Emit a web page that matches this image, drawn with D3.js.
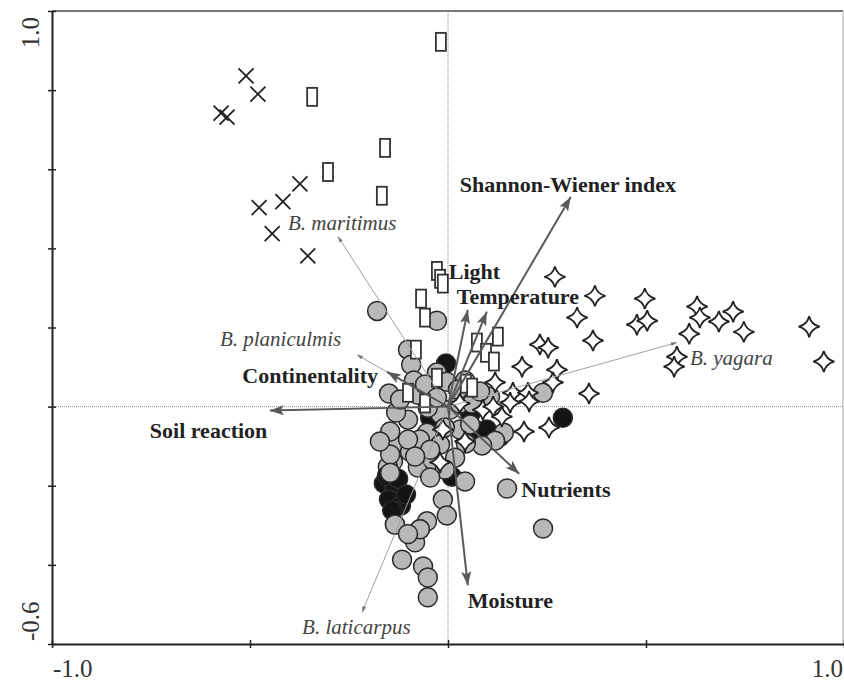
<!DOCTYPE html>
<html>
<head>
<meta charset="utf-8">
<script src="https://cdn.jsdelivr.net/npm/d3@7"></script>
<style>
  body { margin: 0; background: #fff; }
  svg { display: block; }
  text { font-family: "Liberation Serif", "Times New Roman", serif; }
</style>
</head>
<body>
<div id="chart"></div>
<script>
// ordination scores (axis 1, axis 2)
const xTicks = [-1, -0.5, 0, 0.5, 1];
const yTicks = [-0.6, -0.4, -0.2, 0, 0.2, 0.4, 0.6, 0.8, 1.0];
const xTickLabels = ["-1.0", "1.0"];
const yTickLabels = ["1.0", "-0.6"];

const crosses = [
    [-0.510, 0.836], [-0.480, 0.790], [-0.573, 0.742], [-0.558, 0.732], [-0.374, 0.563],
    [-0.417, 0.518], [-0.477, 0.503], [-0.444, 0.437], [-0.354, 0.381]
];

const rects = [
    [-0.018, 0.922], [-0.343, 0.783], [-0.159, 0.654], [-0.303, 0.593], [-0.167, 0.533],
    [-0.028, 0.343], [-0.020, 0.323], [-0.013, 0.311], [-0.068, 0.273], [-0.058, 0.225],
    [-0.081, 0.144], [0.073, 0.162], [0.126, 0.177], [0.096, 0.136], [0.116, 0.114],
    [0.045, 0.058], [0.061, 0.048], [-0.101, 0.035], [-0.058, 0.008], [-0.028, 0.073]
];

const blackCircles = [
    [-0.005, 0.109], [0.290, -0.028], [0.131, -0.076], [0.073, -0.061], [0.010, -0.177],
    [0.056, -0.020], [-0.045, -0.028], [0.098, -0.058]
];

const grayCircles = [
    [-0.179, 0.242], [-0.028, 0.217], [-0.101, 0.144], [-0.093, 0.106], [-0.086, 0.066],
    [-0.149, 0.033], [-0.028, 0.086], [-0.003, 0.063], [0.043, 0.066], [0.240, 0.035],
    [0.141, -0.066], [0.149, -0.207], [0.240, -0.308], [-0.013, -0.235], [-0.003, -0.275],
    [-0.053, -0.290], [-0.071, -0.310], [-0.083, -0.343], [-0.116, -0.387],
    [-0.063, -0.404], [-0.051, -0.432], [-0.051, -0.482], [-0.134, -0.298], [-0.136, -0.093],
    [-0.139, -0.139], [-0.096, -0.114], [-0.076, -0.154], [-0.038, -0.136], [-0.053, -0.066],
    [0.005, -0.008], [0.030, 0.008], [0.061, 0.008], [0.106, 0.025], [0.119, -0.086],
    [0.086, -0.098], [0.045, -0.093], [0.030, -0.058], [-0.020, -0.018], [-0.101, -0.033],
    [-0.131, -0.015], [-0.146, -0.063], [-0.152, -0.152], [0.018, -0.129],
    [0.056, -0.045], [-0.076, 0.030], [-0.051, -0.003], [-0.071, -0.083],
    [-0.101, -0.083], [-0.020, -0.096], [-0.008, -0.053], [-0.045, -0.109],
    [0.081, 0.038], [0.025, 0.043], [-0.058, 0.056], [-0.121, 0.018], [-0.146, -0.121],
    [0.043, -0.189], [-0.172, -0.088], [-0.028, 0.023], [-0.083, -0.126], [-0.008, -0.159],
    [-0.045, -0.179]
];

// black circles that sit on top of the gray ones in the lower cluster
const blackTop = [
    [-0.162, -0.194], [-0.136, -0.207], [-0.149, -0.235], [-0.119, -0.250], [-0.154, -0.175],
    [-0.126, -0.182], [-0.106, -0.222], [-0.141, -0.262]
];
const grayTop = [
    [-0.146, -0.167], [-0.134, -0.298], [-0.071, -0.310], [-0.101, -0.322]
];

const stars = [
    [0.270, 0.328], [0.371, 0.280], [0.497, 0.273], [0.326, 0.225], [0.477, 0.207],
    [0.503, 0.217], [0.366, 0.167], [0.629, 0.253], [0.636, 0.225], [0.684, 0.215],
    [0.720, 0.240], [0.747, 0.189], [0.609, 0.184], [0.578, 0.126], [0.571, 0.101],
    [0.912, 0.202], [0.949, 0.114], [0.356, 0.033], [0.232, 0.157], [0.253, 0.149],
    [0.275, 0.093], [0.187, 0.101], [0.119, 0.061], [0.164, 0.035], [0.202, 0.035],
    [0.265, 0.061], [0.255, -0.053], [0.192, -0.063], [0.088, -0.008], [0.114, 0.000],
    [0.136, -0.025], [-0.013, -0.058], [0.043, -0.088], [-0.020, -0.141], [0.030, 0.008],
    [0.157, 0.010], [0.205, 0.013]
];

// environmental variables (biplot arrows)
const envNames = ["Shannon-Wiener index", "Light", "Temperature", "Continentality", "Soil reaction", "Nutrients", "Moisture"];
const envX = [0.310, 0.050, 0.098, -0.154, -0.450, 0.180, 0.050];
const envY = [0.530, 0.245, 0.240, 0.088, -0.010, -0.170, -0.452];

// species arrows
const sppNames = ["B. maritimus", "B. planiculmis", "B. yagara", "B. laticarpus"];
const sppX = [-0.278, -0.230, 0.578, -0.217];
const sppY = [0.430, 0.131, 0.162, -0.520];

const width = 844, height = 681;
const mLeft = 52, mRight = 844, mTop = 11, mBottom = 644;

// label placement relative to the arrow tip (px)
const envLabelPos = {
    "Shannon-Wiener index": [-111, -5, "start"],
    "Light": [-19, -31, "start"],
    "Temperature": [-30, -8, "start"],
    "Continentality": [-9, 11, "end"],
    "Soil reaction": [-120, 27, "start"],
    "Nutrients": [2, 23, "start"],
    "Moisture": [0, 23, "start"]
};
const sppLabelPos = {
    "B. maritimus": [-50, -7],
    "B. planiculmis": [-137, -9],
    "B. yagara": [13, 22],
    "B. laticarpus": [-60, 22]
};

const x = d3.scaleLinear().domain([-1, 1]).range([mLeft, mRight]);
const y = d3.scaleLinear().domain([-0.6, 1]).range([mBottom, mTop]);

const svg = d3.select("#chart").append("svg")
    .attr("width", width)
    .attr("height", height)
    .attr("viewBox", [0, 0, width, height]);

const defs = svg.append("defs");
defs.append("marker")
    .attr("id", "envHead")
    .attr("markerUnits", "userSpaceOnUse")
    .attr("viewBox", "0 0 14 10")
    .attr("refX", 14).attr("refY", 5)
    .attr("markerWidth", 14).attr("markerHeight", 10)
    .attr("orient", "auto")
    .append("path")
    .attr("d", "M0,0L14,5L0,10L3,5Z")
    .attr("fill", "#5a5a5a");
defs.append("marker")
    .attr("id", "sppHead")
    .attr("markerUnits", "userSpaceOnUse")
    .attr("viewBox", "0 0 6 4")
    .attr("refX", 6).attr("refY", 2)
    .attr("markerWidth", 6).attr("markerHeight", 4)
    .attr("orient", "auto")
    .append("path")
    .attr("d", "M0,0L6,2L0,4Z")
    .attr("fill", "#777");

// frame
svg.append("line")
    .attr("x1", mLeft).attr("x2", mRight - 1).attr("y1", mTop).attr("y2", mTop)
    .attr("stroke", "#777").attr("stroke-width", 2);
svg.append("line")
    .attr("x1", mRight - 1).attr("x2", mRight - 1).attr("y1", mTop).attr("y2", mBottom)
    .attr("stroke", "#aaa").attr("stroke-width", 1);

// zero lines
svg.append("line")
    .attr("x1", x(0)).attr("x2", x(0)).attr("y1", mTop).attr("y2", mBottom)
    .attr("stroke", "#888").attr("stroke-width", 1).attr("stroke-dasharray", "1,1");
svg.append("line")
    .attr("x1", mLeft).attr("x2", mRight - 1).attr("y1", y(0)).attr("y2", y(0))
    .attr("stroke", "#888").attr("stroke-width", 1).attr("stroke-dasharray", "1,1");

// site markers
const marks = svg.append("g");

function drawCircles(data, cls, fill) {
    marks.selectAll("." + cls)
        .data(data)
        .join("circle")
        .attr("class", cls)
        .attr("cx", d => x(d[0])).attr("cy", d => y(d[1]))
        .attr("r", 9.5)
        .attr("fill", fill).attr("stroke", "#2a2a2a").attr("stroke-width", 1.5);
}
drawCircles(blackCircles, "black", "#141414");
drawCircles(grayCircles, "gray", "#b8b8b8");
drawCircles(blackTop, "blackTop", "#141414");
drawCircles(grayTop, "grayTop", "#b8b8b8");

marks.selectAll(".rect")
    .data(rects)
    .join("rect")
    .attr("class", "rect")
    .attr("x", d => x(d[0]) - 5).attr("y", d => y(d[1]) - 9)
    .attr("width", 10).attr("height", 18)
    .attr("fill", "#fff").attr("stroke", "#333").attr("stroke-width", 1.8);

const cs = 7.5;
marks.selectAll(".cross")
    .data(crosses)
    .join("path")
    .attr("class", "cross")
    .attr("d", d => {
        const cx = x(d[0]), cy = y(d[1]);
        return `M${cx - cs},${cy - cs}L${cx + cs},${cy + cs}M${cx - cs},${cy + cs}L${cx + cs},${cy - cs}`;
    })
    .attr("fill", "none").attr("stroke", "#222").attr("stroke-width", 1.8);

function starPath(r) {
    const k = r * 0.2;
    return `M0,${-r}Q${k},${-k} ${r},0Q${k},${k} 0,${r}Q${-k},${k} ${-r},0Q${-k},${-k} 0,${-r}Z`;
}
marks.selectAll(".star")
    .data(stars)
    .join("path")
    .attr("class", "star")
    .attr("transform", d => `translate(${x(d[0])},${y(d[1])})`)
    .attr("d", starPath(10.5))
    .attr("fill", "#fff").attr("stroke", "#222").attr("stroke-width", 1.8);

// species arrows
const spp = sppNames.map((n, i) => ({ name: n, x: sppX[i], y: sppY[i] }));
svg.append("g").selectAll("line")
    .data(spp)
    .join("line")
    .attr("x1", x(0)).attr("y1", y(0))
    .attr("x2", d => x(d.x)).attr("y2", d => y(d.y))
    .attr("stroke", "#a0a0a0").attr("stroke-width", 1)
    .attr("marker-end", "url(#sppHead)");
svg.append("g").selectAll("text")
    .data(spp)
    .join("text")
    .attr("x", d => x(d.x) + sppLabelPos[d.name][0])
    .attr("y", d => y(d.y) + sppLabelPos[d.name][1])
    .attr("font-size", 21)
    .attr("font-style", "italic")
    .attr("fill", "#444")
    .text(d => d.name);

// environmental arrows
const env = envNames.map((n, i) => ({ name: n, x: envX[i], y: envY[i] }));
svg.append("g").selectAll("line")
    .data(env)
    .join("line")
    .attr("x1", x(0)).attr("y1", y(0))
    .attr("x2", d => x(d.x)).attr("y2", d => y(d.y))
    .attr("stroke", "#5a5a5a").attr("stroke-width", 2)
    .attr("marker-end", "url(#envHead)");
svg.append("g").selectAll("text")
    .data(env)
    .join("text")
    .attr("x", d => x(d.x) + envLabelPos[d.name][0])
    .attr("y", d => y(d.y) + envLabelPos[d.name][1])
    .attr("text-anchor", d => envLabelPos[d.name][2])
    .attr("font-size", 22)
    .attr("font-weight", "bold")
    .attr("fill", "#222")
    .text(d => d.name);

// axes
const yAxis = svg.append("g")
    .attr("transform", `translate(${mLeft},0)`)
    .call(d3.axisLeft(y).tickValues(yTicks).tickSizeInner(4).tickSizeOuter(0).tickFormat(() => ""));
const xAxis = svg.append("g")
    .attr("transform", `translate(0,${mBottom})`)
    .call(d3.axisBottom(x).tickValues(xTicks).tickSizeInner(4).tickSizeOuter(0).tickFormat(() => ""));
yAxis.selectAll(".tick line").attr("x1", 4).attr("stroke", "#222").attr("stroke-width", 1.5);
xAxis.selectAll(".tick line").attr("y1", -4).attr("stroke", "#222").attr("stroke-width", 1.5);
yAxis.select(".domain").attr("stroke", "#222").attr("stroke-width", 2);
xAxis.select(".domain").attr("stroke", "#222").attr("stroke-width", 2);

// tick labels at the ends only
svg.append("text")
    .attr("transform", `translate(39,${y(1) + 6}) rotate(-90)`)
    .attr("text-anchor", "end")
    .attr("font-size", 25).attr("fill", "#333")
    .text(yTickLabels[0]);
svg.append("text")
    .attr("transform", `translate(39,${y(-0.6) - 3}) rotate(-90)`)
    .attr("text-anchor", "start")
    .attr("font-size", 25).attr("fill", "#333")
    .text(yTickLabels[1]);
svg.append("text")
    .attr("x", x(-1) + 1).attr("y", 677)
    .attr("text-anchor", "start")
    .attr("font-size", 25).attr("fill", "#333")
    .text(xTickLabels[0]);
svg.append("text")
    .attr("x", x(1) - 1).attr("y", 677)
    .attr("text-anchor", "end")
    .attr("font-size", 25).attr("fill", "#333")
    .text(xTickLabels[1]);
</script>
</body>
</html>
